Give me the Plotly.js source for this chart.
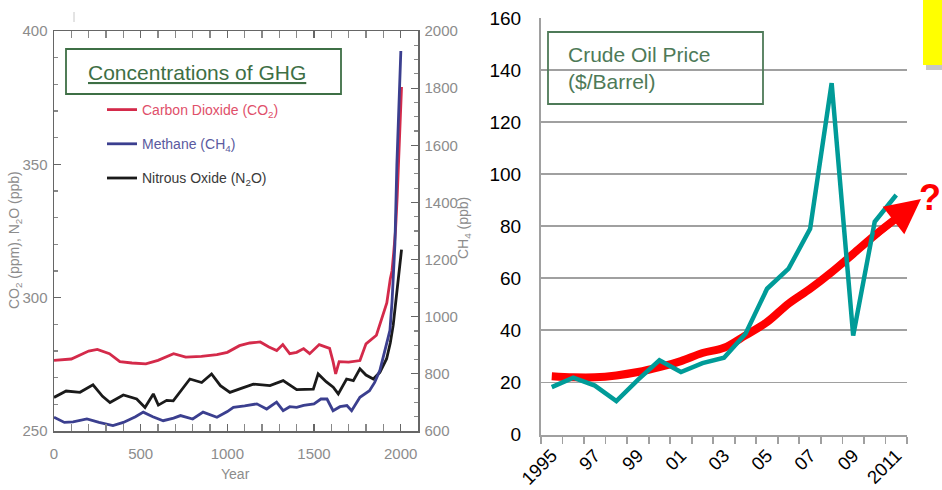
<!DOCTYPE html>
<html>
<head>
<meta charset="utf-8">
<script src="https://cdn.plot.ly/plotly-3.0.1.min.js"></script>
<style>html,body{margin:0;padding:0;background:#fff;}#chart{width:942px;height:490px;}</style>
</head>
<body>
<div id="chart"></div>
<script>
// ---------- Left panel: concentrations of GHG ----------
const co2Year = [0,100,200,250,320,380,450,530,600,690,760,850,940,1000,1070,1130,1190,1240,1285,1320,1360,1400,1440,1475,1530,1590,1610,1625,1645,1700,1765,1800,1860,1900,1920,1940,1950,1960,1970,1980,1990,2000,2005];
const co2Ppm  = [276.5,277,280,280.6,279,276,275.5,275.2,276.5,279,277.7,278,278.6,279.5,282,283,283.4,281.5,280.2,282.4,279,279.5,280.9,279,282.4,281,276,271.4,276,275.8,276.4,282.7,285.9,294,298,307,310,317,325,338,354,372,379];

const ch4Year = [0,60,110,190,260,340,400,470,515,570,630,690,730,800,860,940,1000,1035,1100,1170,1227,1284,1322,1360,1400,1440,1500,1540,1575,1610,1650,1690,1717,1765,1820,1850,1880,1900,1920,1938,1950,1960,1967,1978,1990,2001];
const ch4Ppb  = [648,630,632,642,630,619,630,650,666,650,636,645,654,642,666,648,668,683,688,695,677,701,671,685,683,690,695,712,712,671,685,689,671,718,741,770,812,860,905,952,1050,1150,1256,1530,1750,1930];

const n2oYear = [0,70,150,225,280,323,400,477,525,573,602,650,688,740,784,852,909,960,1015,1080,1150,1246,1322,1400,1496,1524,1570,1611,1640,1688,1727,1765,1800,1842,1880,1919,1940,1957,1975,1990,2005];
const n2oPpb  = [262.6,265,264.5,267.3,263,260.7,263.5,262,258.8,263.9,259.7,261.5,261.3,266,269.5,268.2,271.4,267,264.5,266,267.6,267,268.9,265.5,265.7,271.4,268.5,266.4,263.9,269.5,268.9,273.3,271,269.5,272,277.1,283,289.7,300,310,318];

// ---------- Right panel: crude oil price ----------
const oilYears    = [1995,1996,1997,1998,1999,2000,2001,2002,2003,2004,2005,2006,2007,2008,2009,2010,2011];
const oilTickYear = [1995,1997,1999,2001,2003,2005,2007,2009,2011];
const oilTickText = ['1995','97','99','01','03','05','07','09','2011'];
const oilPrice    = [18.2,21.8,18.8,12.8,21.0,28.5,24.0,27.4,29.5,38.7,56.0,63.7,79,135,38,81.7,92.0];
const oilTrend    = [22.4,22.0,22.0,22.7,24.0,25.9,28.2,31.3,33.3,38.1,43.2,50.3,56.0,62.4,69.4,76.5,83.0];

const W = 942, H = 490;
const px = v => v / W;
const py = v => 1 - v / H;

const ghgFont = 'Liberation Sans Narrow, Liberation Sans, Arial, sans-serif';
const oilFont = 'Liberation Sans, Arial, sans-serif';
const green = '#3e6f45';

const traces = [
  {x: co2Year, y: co2Ppm, xaxis: 'x', yaxis: 'y', mode: 'lines',
   name: '<span style="color:#e0506a">Carbon Dioxide (CO<sub>2</sub>)</span>',
   line: {color: '#d42a4a', width: 2.8}, legendgroup: 'a'},
  {x: ch4Year, y: ch4Ppb, xaxis: 'x', yaxis: 'y2', mode: 'lines',
   name: '<span style="color:#5a5aa0">Methane (CH<sub>4</sub>)</span>',
   line: {color: '#3b3f8f', width: 2.8}, legendgroup: 'b'},
  {x: n2oYear, y: n2oPpb, xaxis: 'x', yaxis: 'y', mode: 'lines',
   name: '<span style="color:#3a3a3a">Nitrous Oxide (N<sub>2</sub>O)</span>',
   line: {color: '#1a1a1a', width: 2.8}, legendgroup: 'c'},
  {x: oilYears, y: oilTrend, xaxis: 'x2', yaxis: 'y3', mode: 'lines', showlegend: false,
   line: {color: '#ff0000', width: 8, shape: 'spline'}},
  {x: oilYears, y: oilPrice, xaxis: 'x2', yaxis: 'y3', mode: 'lines', showlegend: false,
   line: {color: '#009b98', width: 4.5}}
];

const n = oilTrend.length;
const ext = 1.15;
const tipX = oilYears[n - 1] + ext * (oilYears[n - 1] - oilYears[n - 2]);
const tipY = oilTrend[n - 1] + ext * (oilTrend[n - 1] - oilTrend[n - 2]);

const ghgTick = {family: ghgFont, size: 15, color: '#8c8c8c'};

const layout = {
  width: W, height: H,
  margin: {l: 0, r: 0, t: 0, b: 0, pad: 0},
  paper_bgcolor: '#ffffff', plot_bgcolor: '#ffffff',
  showlegend: true,
  legend: {x: px(102), y: py(94), xanchor: 'left', yanchor: 'top',
           bgcolor: 'rgba(0,0,0,0)', traceorder: 'grouped', tracegroupgap: 13,
           font: {family: ghgFont, size: 14}},
  xaxis: {domain: [px(54), px(418)], anchor: 'y', range: [0, 2100],
          tick0: 0, dtick: 500, ticks: 'inside', ticklen: 7, tickwidth: 1.2, tickcolor: '#666',
          minor: {tick0: 0, dtick: 100, ticks: 'inside', ticklen: 4, tickcolor: '#888'},
          showline: true, linecolor: '#666', linewidth: 1.5, mirror: 'allticks',
          showgrid: false, zeroline: false, automargin: false,
          tickfont: ghgTick, ticklabelstandoff: 8},
  yaxis: {domain: [py(431), py(31)], anchor: 'x', range: [250, 400],
          tick0: 250, dtick: 50, ticks: 'inside', ticklen: 7, tickwidth: 1.2, tickcolor: '#666',
          minor: {dtick: 10, ticks: 'inside', ticklen: 4, tickcolor: '#888'},
          showline: true, linecolor: '#666', linewidth: 1.5, mirror: true,
          showgrid: false, zeroline: false, automargin: false,
          tickfont: ghgTick, ticklabelstandoff: 2},
  yaxis2: {overlaying: 'y', side: 'right', anchor: 'x', range: [600, 2000],
           tick0: 600, dtick: 200, ticks: 'inside', ticklen: 7, tickwidth: 1.2, tickcolor: '#666',
           minor: {dtick: 50, ticks: 'inside', ticklen: 4, tickcolor: '#888'},
           showline: true, linecolor: '#666', linewidth: 1.5,
           showgrid: false, zeroline: false, automargin: false,
           tickfont: ghgTick, ticklabelstandoff: 2},
  xaxis2: {domain: [px(541), px(907)], anchor: 'y3',
           range: [oilYears[0] - 0.5, oilYears[n - 1] + 0.5],
           tickmode: 'array', tickvals: oilTickYear, ticktext: oilTickText, ticks: '',
           minor: {tickmode: 'linear', tick0: oilYears[0] - 0.5, dtick: 1,
                   ticks: 'outside', ticklen: 7, tickwidth: 1.8, tickcolor: '#a0a0a0', showgrid: false},
           showline: true, linecolor: '#a0a0a0', linewidth: 2,
           showgrid: false, zeroline: false, automargin: false, tickangle: -45,
           ticklabelstandoff: 1,
           tickfont: {family: oilFont, size: 18.5, color: '#000'}},
  yaxis3: {domain: [py(434.5), py(18)], anchor: 'x2', range: [0, 160], dtick: 20,
           showgrid: true, gridcolor: '#a0a0a0', gridwidth: 1.8,
           showline: true, linecolor: '#a0a0a0', linewidth: 2, ticks: '',
           zeroline: false, automargin: false, ticklabelstandoff: 14,
           tickfont: {family: oilFont, size: 19, color: '#000'}},
  shapes: [
    {type: 'rect', xref: 'paper', yref: 'paper', x0: px(66), x1: px(341), y0: py(49), y1: py(94),
     line: {color: green, width: 1.8}, fillcolor: 'rgba(0,0,0,0)'},
    {type: 'rect', xref: 'paper', yref: 'paper', x0: px(548), x1: px(763), y0: py(32), y1: py(104),
     line: {color: '#4e7a58', width: 1.8}, fillcolor: 'rgba(0,0,0,0)'},
    {type: 'rect', xref: 'paper', yref: 'paper', x0: px(926), x1: px(945), y0: py(3), y1: py(70),
     line: {width: 0}, fillcolor: 'rgba(0,0,0,0.22)'},
    {type: 'rect', xref: 'paper', yref: 'paper', x0: px(923), x1: px(943), y0: py(-1), y1: py(65),
     line: {width: 0}, fillcolor: '#ffff00'},
    {type: 'line', xref: 'paper', yref: 'paper', x0: px(74), x1: px(74), y0: py(12), y1: py(22),
     line: {color: '#c8c8c8', width: 1}}
  ],
  annotations: [
    {xref: 'paper', yref: 'paper', x: px(86), y: py(72), xanchor: 'left', yanchor: 'middle',
     text: '<u>Concentrations of GHG</u>', showarrow: false,
     font: {family: 'Liberation Sans, Arial, sans-serif', size: 21, color: green}},
    {xref: 'paper', yref: 'paper', x: px(566), y: py(68), xanchor: 'left', yanchor: 'middle',
     text: 'Crude Oil Price<br>($/Barrel)', showarrow: false, align: 'left',
     font: {family: oilFont, size: 21, color: '#4e7a58'}},
    {xref: 'paper', yref: 'paper', x: px(15), y: py(240), xanchor: 'center', yanchor: 'middle',
     textangle: -90, showarrow: false,
     text: 'CO<sub>2</sub> (ppm), N<sub>2</sub>O (ppb)',
     font: {family: ghgFont, size: 14, color: '#8c8c8c'}},
    {xref: 'paper', yref: 'paper', x: px(464), y: py(228), xanchor: 'center', yanchor: 'middle',
     textangle: -90, showarrow: false,
     text: 'CH<sub>4</sub> (ppb)',
     font: {family: ghgFont, size: 14, color: '#8c8c8c'}},
    {xref: 'paper', yref: 'paper', x: px(235), y: py(474), xanchor: 'center', yanchor: 'middle',
     showarrow: false, text: 'Year',
     font: {family: ghgFont, size: 14, color: '#8c8c8c'}},
    {xref: 'paper', yref: 'paper', x: px(930), y: py(198), xanchor: 'center', yanchor: 'middle',
     showarrow: false, text: '<b>?</b>',
     font: {family: 'Liberation Sans, Arial, sans-serif', size: 36, color: '#ff0000'}},
    {xref: 'x2', yref: 'y3', axref: 'x2', ayref: 'y3',
     x: tipX, y: tipY, ax: oilYears[n - 2], ay: oilTrend[n - 2], text: '', showarrow: true,
     arrowhead: 2, arrowsize: 1, arrowwidth: 7, arrowcolor: '#ff0000', standoff: 0}
  ]
};

Plotly.newPlot('chart', traces, layout, {displayModeBar: false, staticPlot: true});
</script>
</body>
</html>
